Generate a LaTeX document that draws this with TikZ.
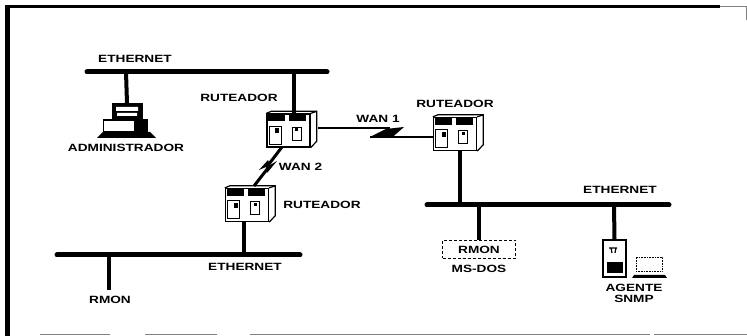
\documentclass[tikz,border=0pt]{standalone}
\usepackage{fontspec}
\setmainfont{Liberation Sans}[FakeStretch=1.3]
\usepackage{tikz}
\usetikzlibrary{positioning,calc}
\newcommand{\routerparts}[1]{
  \draw[wire] (#1.north east) -- ++(6,-2) -- ++(0,30) -- (#1.south east);
  \draw[wire] (#1.north west) -- ++(5,-2) -- ($(#1.north east)+(6,-2)$);
  \fill ($(#1.north west)+(2,1)$) rectangle ++(17,7);
  \fill ($(#1.north west)+(23,1)$) rectangle ++(17,7);
  \draw[wire] ($(#1.north west)+(3,13)$) rectangle ++(12,18);
  \draw[wire] ($(#1.north west)+(26,14)$) rectangle ++(9,13);
  \fill ($(#1.north west)+(9,15)$) rectangle ++(4,5);
  \fill ($(#1.north west)+(29,15)$) rectangle ++(3,3);
}
\begin{document}
\begin{tikzpicture}[
  x=1pt, y=-1pt,
  lbl/.style={font=\bfseries\fontsize{10.5}{11}\selectfont, inner sep=0pt, align=center},
  bus/.style={line width=5pt, line cap=round},
  stem/.style={line width=4pt},
  wire/.style={line width=1.2pt},
  router/.style={draw, line width=1.3pt, fill=white, minimum width=43pt, minimum height=33pt, inner sep=0pt}
]
\useasboundingbox (0,0) rectangle (747,336);
% frame
\draw[line width=4.5pt] (7.5,336) -- (7.5,6);
\draw[line width=3pt] (5,6.5) -- (720,6.5);
\draw[line width=1pt, gray] (720,7) -- (746,7) -- (746,20);
\draw[line width=1pt, gray] (40,334.5) -- (110,334.5) (145,334.5) -- (217,334.5) (250,334.5) -- (650,334.5) (654,334.5) -- (747,334.5);
% ethernet buses
\coordinate (busAw) at (87,72); \coordinate (busAe) at (327,72);
\coordinate (busBw) at (57,255); \coordinate (busBe) at (300,255);
\coordinate (busCw) at (427,205); \coordinate (busCe) at (669,205);
\draw[bus] (busAw) -- (busAe);
\draw[bus] (busBw) -- (busBe);
\draw[bus] (busCw) -- (busCe);
% routers
\node[router] (rtA) at (288.5,130.5) {};
\node[router] (rtB) at (455,134) {};
\node[router] (rtC) at (247,205) {};
\routerparts{rtA}
\routerparts{rtB}
\routerparts{rtC}
\draw[stem] (294,72) -- (294,0 |- rtA.north);
\draw[stem] (244,0 |- rtC.south) -- (244,255);
\draw[stem] (460,0 |- rtB.south) -- (460,205);
% wan links
\coordinate (wanAup) at (404,127); \coordinate (wanAlo) at (370,137);
\draw[line width=2pt] (318,128) -- (390,128);
\fill (wanAup) -- (392,137.5) -- (wanAlo) -- (386,129) -- cycle;
\draw[line width=1.3pt] (wanAlo) -- (rtB.west |- 0,137);
\coordinate (wanBup) at (259,170); \coordinate (wanBlo) at (277,161);
\draw[line width=3pt] (282,147) -- (269,164);
\fill (wanBup) -- (268,160) -- (270,165) -- (wanBlo) -- (267,173) -- (266,167) -- cycle;
\draw[line width=3pt] (268,168) -- (254,186);
% administrador
\node[draw, fill=black, minimum width=30pt, minimum height=16pt, inner sep=0pt] (mon) at (127,111.5) {};
\fill[white] (116,107) rectangle (138,111) (117,113) rectangle (137,116);
\draw[stem] (126,72) -- (mon.north);
\node[draw, line width=1.5pt, minimum width=44pt, minimum height=12pt, inner sep=0pt] (deskpc) at (125.5,126) {};
\fill (134,120) rectangle (148,133);
\fill (97,138) -- (103,132) -- (150,132) -- (156,138) -- cycle;
% rmon izquierda
\coordinate (rmonend) at (109,290);
\draw[stem] (109,255) -- (rmonend);
% rmon ms-dos
\node[draw, densely dashed, line width=0.5pt, minimum width=73pt, minimum height=18pt, inner sep=0pt, lbl] (rmonbox) at (479,249.5) {RMON};
\draw[stem] (479,205) -- (rmonbox.north);
% agente
\node[draw, line width=1.5pt, minimum width=23pt, minimum height=37pt, inner sep=0pt] (tower) at (614.5,258.5) {};
\draw[stem] (614,205) -- (tower.north);
\fill (607,262) rectangle (623,273);
\draw[wire] (609,248) -- (617,248) (611,248) -- (612,253) (616,248) -- (615,253);
\node[draw, densely dotted, line width=0.6pt, minimum width=26pt, minimum height=14pt, inner sep=0pt] (lap) at (649,264) {};
\fill (632,278) -- (634,275) -- (665,275) -- (667,278) -- cycle;
% textos
\node[lbl] (ethA) at (135,59) {ETHERNET};
\node[lbl] (ethB) at (245,267) {ETHERNET};
\node[lbl] (ethC) at (620,190) {ETHERNET};
\node[lbl] (ruA) at (239,97.5) {RUTEADOR};
\node[lbl] (ruB) at (455,103.5) {RUTEADOR};
\node[lbl] (ruC) at (322,205) {RUTEADOR};
\node[lbl] (admin) at (126,147.5) {ADMINISTRADOR};
\node[lbl] (wanone) at (378,119) {WAN 1};
\node[lbl] (wantwo) at (300.5,167) {WAN 2};
\node[lbl] (rmonlbl) at (110,300) {RMON};
\node[lbl] (msdos) at (479,268.5) {MS-DOS};
\node[lbl] (agente) at (634,293.5) {AGENTE\\SNMP};
\end{tikzpicture}
\end{document}
